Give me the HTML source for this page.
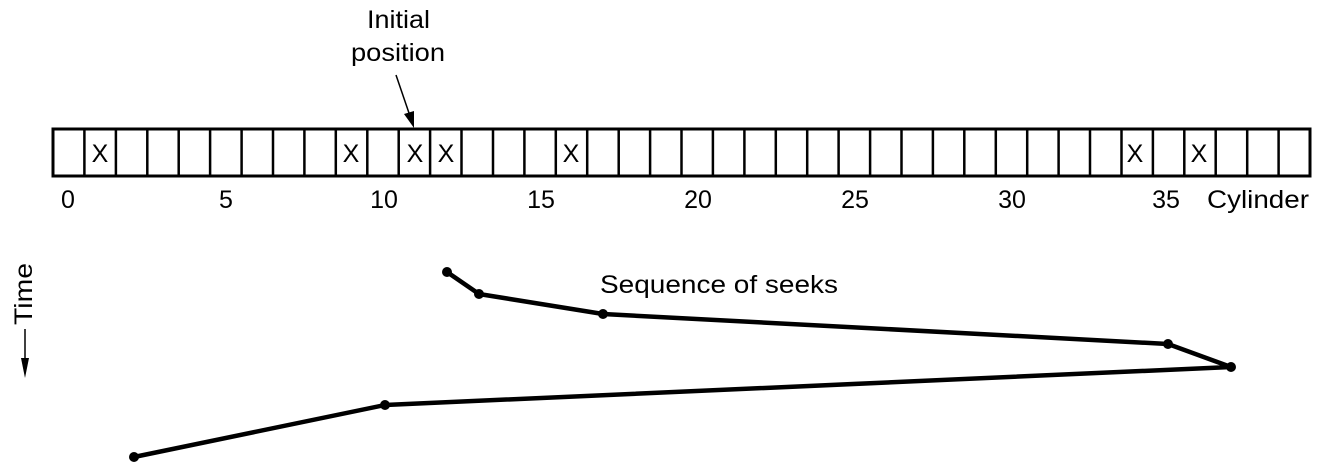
<!DOCTYPE html>
<html><head><style>html,body{margin:0;padding:0;background:#fff}svg{display:block}</style></head>
<body>
<svg width="1318" height="471" viewBox="0 0 1318 471" xmlns="http://www.w3.org/2000/svg" font-family="Liberation Sans, sans-serif" fill="#000">
<g stroke="#000" stroke-width="3" fill="none">
<rect x="53" y="129" width="1257" height="47"/>
<path d="M84.4 129v47M115.9 129v47M147.3 129v47M178.7 129v47M210.1 129v47M241.6 129v47M273 129v47M304.4 129v47M335.8 129v47M367.3 129v47M398.7 129v47M430.1 129v47M461.5 129v47M493 129v47M524.4 129v47M555.8 129v47M587.2 129v47M618.7 129v47M650.1 129v47M681.5 129v47M712.9 129v47M744.4 129v47M775.8 129v47M807.2 129v47M838.6 129v47M870.1 129v47M901.5 129v47M932.9 129v47M964.3 129v47M995.8 129v47M1027.2 129v47M1058.6 129v47M1090 129v47M1121.5 129v47M1152.9 129v47M1184.3 129v47M1215.7 129v47M1247.2 129v47M1278.6 129v47" stroke-width="2.5"/>
</g>
<g font-size="25" text-anchor="middle">
<text x="100" y="162">X</text><text x="351" y="162">X</text><text x="415" y="162">X</text><text x="446" y="162">X</text><text x="571" y="162">X</text><text x="1135" y="162">X</text><text x="1199" y="162">X</text>
<text x="68" y="208">0</text><text x="226" y="208">5</text><text x="384" y="208">10</text><text x="541" y="208">15</text><text x="698" y="208">20</text><text x="855" y="208">25</text><text x="1012" y="208">30</text><text x="1166" y="208">35</text>
<text x="1258" y="208" textLength="102" lengthAdjust="spacingAndGlyphs">Cylinder</text>
<text x="398.5" y="28" textLength="63" lengthAdjust="spacingAndGlyphs">Initial</text><text x="398" y="61" textLength="94" lengthAdjust="spacingAndGlyphs">position</text>
<text x="719" y="293" textLength="238" lengthAdjust="spacingAndGlyphs">Sequence of seeks</text>
<text transform="translate(32,294) rotate(-90)" textLength="62" lengthAdjust="spacingAndGlyphs">Time</text>
</g>
<line x1="396" y1="75" x2="410" y2="116" stroke="#000" stroke-width="1.5"/>
<polygon points="414,128 404,114 414,111"/>
<line x1="25" y1="329" x2="25" y2="366" stroke="#000" stroke-width="1.5"/>
<polygon points="25,378 21,358 29,358"/>
<polyline points="447,272 479,294 603,314 1168,344 1231,367 385,405 134,457" fill="none" stroke="#000" stroke-width="4.5" stroke-linejoin="round"/>
<g><circle cx="447" cy="272" r="5"/><circle cx="479" cy="294" r="5"/><circle cx="603" cy="314" r="5"/><circle cx="1168" cy="344" r="5"/><circle cx="1231" cy="367" r="5"/><circle cx="385" cy="405" r="5"/><circle cx="134" cy="457" r="5"/></g>
</svg>
</body></html>
